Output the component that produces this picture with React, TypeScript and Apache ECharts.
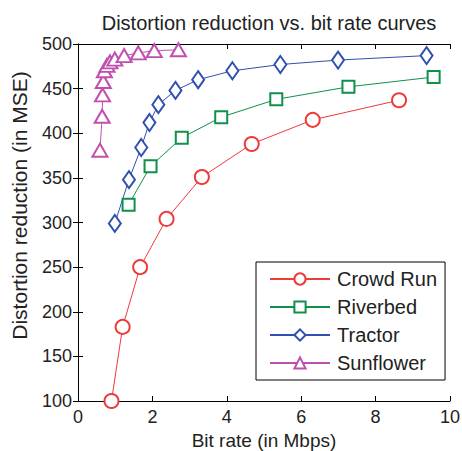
import React, { useEffect, useRef } from "react";
import * as echarts from "echarts";

const crowdRunX = [0.9, 1.2, 1.67, 2.38, 3.33, 4.67, 6.31, 8.63];
const crowdRunY = [100, 183, 250, 304, 351, 388, 415, 437];
const riverbedX = [1.36, 1.95, 2.79, 3.85, 5.33, 7.27, 9.56];
const riverbedY = [320, 363, 395, 418, 438, 452, 463];
const tractorX = [0.99, 1.37, 1.7, 1.92, 2.16, 2.62, 3.23, 4.15, 5.44, 6.99, 9.37];
const tractorY = [299, 348, 384, 412, 432, 448, 460, 470, 477, 482, 487];
const sunflowerX = [0.59, 0.65, 0.66, 0.68, 0.71, 0.78, 0.86, 0.99, 1.24, 1.62, 2.05, 2.7];
const sunflowerY = [381, 419, 443, 458, 470, 476, 480, 483, 487, 490, 492.5, 493.5];

const seriesNames = ["Crowd Run", "Riverbed", "Tractor", "Sunflower"];
const seriesColors = ["#f03a3a", "#10904a", "#3050b0", "#c050b0"];
const seriesSymbols = ["emptyCircle", "emptyRect", "emptyDiamond", "emptyTriangle"];
const seriesSymbolSizes: any[] = [14, 12, [12, 17], [15, 13]];
const xTicks = [0, 2, 4, 6, 8, 10];
const yTicks = [100, 150, 200, 250, 300, 350, 400, 450, 500];

const zip = (xs: number[], ys: number[]) => xs.map((x, i) => [x, ys[i]]);

export default function App() {
  const ref = useRef<HTMLDivElement>(null);
  useEffect(() => {
    if (!ref.current) return;
    const chart = echarts.init(ref.current, null, { renderer: "svg" });
    const font = "Liberation Sans, Arial, sans-serif";
    const datas = [
      zip(crowdRunX, crowdRunY),
      zip(riverbedX, riverbedY),
      zip(tractorX, tractorY),
      zip(sunflowerX, sunflowerY),
    ];
    const axisCommon = {
      axisLine: { show: true, lineStyle: { color: "#000", width: 1 } },
      axisTick: { show: true, inside: true, length: 5, lineStyle: { color: "#000" } },
      splitLine: { show: false },
    };
    chart.setOption({
      animation: false,
      backgroundColor: "#fff",
      title: {
        text: "Distortion reduction vs. bit rate curves",
        left: 264,
        textAlign: "center",
        top: 8,
        textStyle: { fontFamily: font, fontSize: 20, fontWeight: "normal", color: "#222" },
      },
      grid: { left: 78, right: 12, top: 44, bottom: 50, containLabel: false, outerBoundsMode: "none" },
      xAxis: [
        {
          type: "value",
          min: xTicks[0],
          max: xTicks[xTicks.length - 1],
          interval: 2,
          position: "bottom",
          name: "Bit rate (in Mbps)",
          nameLocation: "middle",
          nameGap: 26,
          nameTextStyle: { fontFamily: font, fontSize: 19, lineHeight: 20, color: "#222" },
          axisLabel: { fontFamily: font, fontSize: 18, color: "#222", margin: 7 },
          ...axisCommon,
        },
        {
          type: "value",
          min: xTicks[0],
          max: xTicks[xTicks.length - 1],
          interval: 2,
          position: "top",
          axisLabel: { show: false },
          ...axisCommon,
        },
      ],
      yAxis: [
        {
          type: "value",
          min: yTicks[0],
          max: yTicks[yTicks.length - 1],
          interval: 50,
          position: "left",
          name: "Distortion reduction (in MSE)",
          nameLocation: "middle",
          nameGap: 48,
          nameTextStyle: { fontFamily: font, fontSize: 21, color: "#222", padding: [0, 0, 0, 34] },
          axisLabel: { fontFamily: font, fontSize: 18, color: "#222", margin: 6 },
          ...axisCommon,
        },
        {
          type: "value",
          min: yTicks[0],
          max: yTicks[yTicks.length - 1],
          interval: 50,
          position: "right",
          axisLabel: { show: false },
          ...axisCommon,
        },
      ],
      legend: {
        orient: "vertical",
        left: 256,
        top: 262,
        padding: [7, 8, 7, 13],
        itemGap: 8,
        itemWidth: 60,
        itemHeight: 14,
        borderColor: "#000",
        borderWidth: 1,
        backgroundColor: "#fff",
        textStyle: { fontFamily: font, fontSize: 20, color: "#222", padding: [0, 0, 0, 2] },
        data: seriesNames,
      },
      series: seriesNames.map((name, i) => ({
        name,
        type: "line",
        data: datas[i],
        symbol: seriesSymbols[i],
        symbolSize: seriesSymbolSizes[i],
        showAllSymbol: true,
        clip: false,
        lineStyle: { color: seriesColors[i], width: 1 },
        itemStyle: { color: seriesColors[i], borderWidth: 1 },
        z: 10 - i,
      })),
    });
    return () => chart.dispose();
  }, []);
  return <div ref={ref} style={{ width: 462, height: 451, position: "absolute", left: 0, top: 0 }} />;
}
